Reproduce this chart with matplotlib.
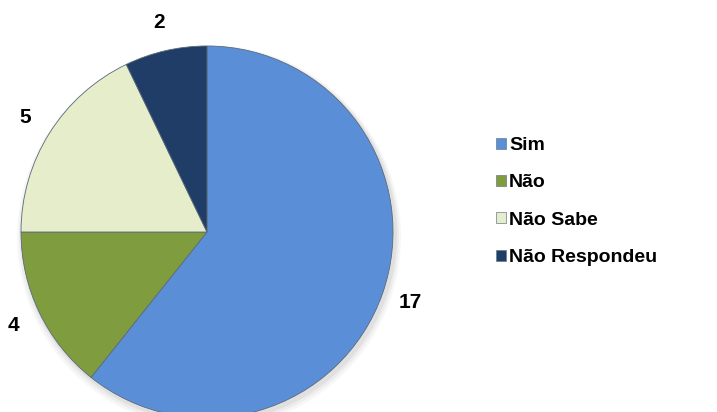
import matplotlib
matplotlib.use('Agg')
import matplotlib.pyplot as plt
from matplotlib.patches import Patch

categories = ['Sim', 'Não', 'Não Sabe', 'Não Respondeu']
counts = [17, 4, 5, 2]
colors = ['#5a8fd8', '#7f9c3f', '#e5edcb', '#1f3d66']

plt.rcParams['font.family'] = ['Liberation Sans', 'DejaVu Sans']

fig = plt.figure(figsize=(7.17, 4.12), dpi=100)
ax = fig.add_axes([0, 0, 1, 1])

# soft shadow under the pie
for i, a in enumerate([0.05, 0.04, 0.03]):
    shadow = plt.Circle((207 + 2, 180 - 3 - i), 186 + 2 + 2 * i, color='black',
                        alpha=a, zorder=0, lw=0)
    ax.add_patch(shadow)

wedges, texts = ax.pie(counts, labels=[str(c) for c in counts], colors=colors,
                       startangle=90, counterclock=False, center=(207, 180),
                       radius=186, labeldistance=1.155, frame=True,
                       wedgeprops=dict(edgecolor='#5a6a7a', linewidth=0.6),
                       textprops=dict(fontsize=15, fontweight='bold', color='black'))
for t in texts:
    t.set_horizontalalignment('center')
    t.set_verticalalignment('center')

ax.set_xlim(0, 717)
ax.set_ylim(0, 412)
ax.set_aspect('equal')
ax.axis('off')

handles = [Patch(facecolor=c, edgecolor='#6b7b8b', linewidth=0.5) for c in colors]
leg = ax.legend(handles, categories, loc='upper left', bbox_to_anchor=(0.668, 0.71),
                frameon=False, handlelength=0.5, handleheight=0.5, handletextpad=0.15,
                labelspacing=1.05, prop=dict(size=14, weight='bold'))

fig.savefig('out.png', dpi=100)
